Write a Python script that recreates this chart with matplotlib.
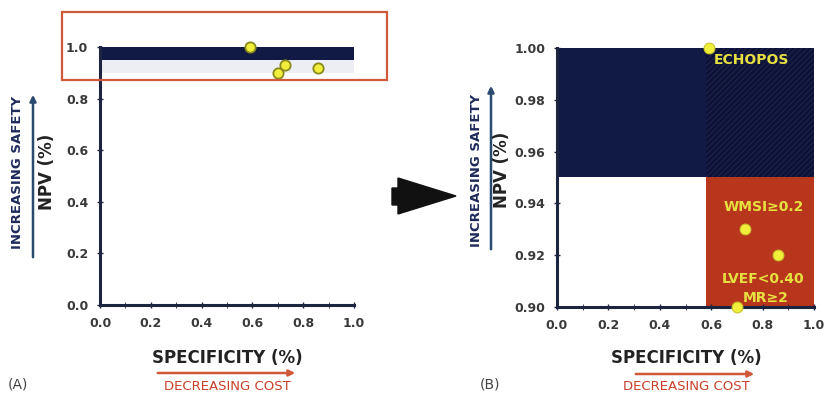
import matplotlib.pyplot as plt
from matplotlib.patches import Rectangle, Polygon, FancyArrowPatch

# data
specificity = [0.59, 0.70, 0.73, 0.86]
npv = [1.00, 0.90, 0.93, 0.92]
point_labels = ['ECHOPOS', 'MR≥2', 'WMSI≥0.2', 'LVEF<0.40']

# zones (NPV / specificity thresholds)
npv_cut = 0.95
spec_cut = 0.58

navy = '#101a45'
dark_navy = '#0c1235'
red = '#b8361c'
yellow = '#f2ee3c'
axis_col = '#1c2440'
tick_col = '#3a3a3a'
orange = '#d0593a'

fig = plt.figure(figsize=(8.27, 3.96), dpi=100)

def style_axes(ax, xticks, yticks, yfmt):
    for s in ['top', 'right']:
        ax.spines[s].set_visible(False)
    for s in ['left', 'bottom']:
        ax.spines[s].set_color(axis_col)
        ax.spines[s].set_linewidth(2.2)
    ax.set_xticks(xticks)
    ax.set_xticklabels([f'{v:.1f}' for v in xticks])
    ax.set_yticks(yticks)
    ax.set_yticklabels([yfmt.format(v) for v in yticks])
    ax.set_xticks([0.1, 0.3, 0.5, 0.7, 0.9], minor=True)
    ax.tick_params(direction='inout', length=5, width=1, color=axis_col,
                   labelsize=9, labelcolor=tick_col, pad=6)
    ax.tick_params(which='minor', direction='inout', length=4, color=axis_col)
    for t in ax.get_xticklabels() + ax.get_yticklabels():
        t.set_fontweight('bold')
        t.set_family('DejaVu Sans Condensed')

# ---------- panel A ----------
axA = fig.add_axes([0.121, 0.230, 0.307, 0.651])
axA.set_xlim(0, 1.0)
axA.set_ylim(0, 1.0)
axA.axhspan(0.90, npv_cut, color='#eceef3', lw=0)
axA.axhspan(npv_cut, 1.0, color=navy, lw=0)
axA.scatter(specificity, npv, s=55, color=yellow, edgecolors='#8a8a1c',
            linewidths=1.3, zorder=5, clip_on=False)
style_axes(axA, [0.0, 0.2, 0.4, 0.6, 0.8, 1.0], [0.0, 0.2, 0.4, 0.6, 0.8, 1.0], '{:.1f}')
axA.add_patch(Rectangle((-0.15, 0.872), 1.28, 0.264, fill=False, edgecolor=orange,
                        lw=1.6, clip_on=False, zorder=6))

# ---------- panel B ----------
axB = fig.add_axes([0.6735, 0.225, 0.311, 0.654])
axB.set_xlim(0, 1.0)
axB.set_ylim(0.90, 1.0)
axB.add_patch(Rectangle((0, npv_cut), spec_cut, 1.0 - npv_cut, color=navy, lw=0))
axB.add_patch(Rectangle((spec_cut, npv_cut), 1.0 - spec_cut, 1.0 - npv_cut,
                        facecolor=dark_navy, edgecolor='#1a2048', hatch='//////', lw=0))
axB.add_patch(Rectangle((spec_cut, 0.90), 1.0 - spec_cut, npv_cut - 0.90, color=red, lw=0))
axB.scatter(specificity, npv, s=60, color=yellow, edgecolors='#c8c42a',
            linewidths=0.8, zorder=5, clip_on=False)
style_axes(axB, [0.0, 0.2, 0.4, 0.6, 0.8, 1.0], [0.90, 0.92, 0.94, 0.96, 0.98, 1.00], '{:.2f}')

lab_kw = dict(color='#e6e040', fontsize=10, fontweight='bold', zorder=6)
axB.text(specificity[0] + 0.02, npv[0] - 0.002, point_labels[0], ha='left', va='top', **lab_kw)
axB.text(0.805, 0.9385, point_labels[2], ha='center', va='center', **lab_kw)
axB.text(0.80, 0.9108, point_labels[3], ha='center', va='center', **lab_kw)
axB.text(0.81, 0.9035, point_labels[1], ha='center', va='center', **lab_kw)

# ---------- axis titles and arrows ----------
def labels(x_npv, x_safe, x_arrow, y_top, y_bot, y_mid, x_spec, y_spec,
           ax0, ax1, y_arr, y_cost, tag_x, tag):
    fig.text(x_npv, y_mid, 'NPV (%)', rotation=90, ha='center', va='center',
             fontsize=12, fontweight='bold', color='#222', family='DejaVu Sans Condensed')
    fig.text(x_safe, y_mid, 'INCREASING SAFETY', rotation=90, ha='center', va='center',
             fontsize=9.5, fontweight='bold', color='#1e2a5a', family='DejaVu Sans Condensed')
    fig.add_artist(FancyArrowPatch((x_arrow, y_bot), (x_arrow, y_top),
                                   transform=fig.transFigure, arrowstyle='-|>',
                                   mutation_scale=9, color='#2a4a70', lw=1.8))
    fig.text(x_spec, y_spec, 'SPECIFICITY (%)', ha='center', va='center',
             fontsize=12, fontweight='bold', color='#222')
    fig.add_artist(FancyArrowPatch((ax0, y_arr), (ax1, y_arr),
                                   transform=fig.transFigure, arrowstyle='-|>',
                                   mutation_scale=9, color=orange, lw=1.8))
    fig.text(x_spec, y_cost, 'DECREASING COST', ha='center', va='center',
             fontsize=9.5, color='#c8402a', family='DejaVu Sans Condensed')
    fig.text(tag_x, 0.028, tag, ha='left', va='center', fontsize=10, color='#444')

labels(47 / 827, 18 / 827, 33 / 827, 1 - 92 / 396, 1 - 260 / 396, 1 - 172 / 396,
       227 / 827, 1 - 358 / 396, 155 / 827, 298 / 827, 1 - 373 / 396, 1 - 387 / 396,
       8 / 827, '(A)')
labels(502 / 827, 477 / 827, 491 / 827, 1 - 83 / 396, 1 - 252 / 396, 1 - 170 / 396,
       686 / 827, 1 - 358 / 396, 633 / 827, 757 / 827, 1 - 374 / 396, 1 - 387 / 396,
       480 / 827, '(B)')

# big arrow between panels
W, H = 827, 396
pts = [(392, 188), (398, 188), (398, 178), (456, 196), (398, 214), (398, 205), (392, 205)]
fig.add_artist(Polygon([(x / W, 1 - y / H) for x, y in pts], closed=True,
                       transform=fig.transFigure, color='#111111'))

fig.savefig('out.png', dpi=100)
